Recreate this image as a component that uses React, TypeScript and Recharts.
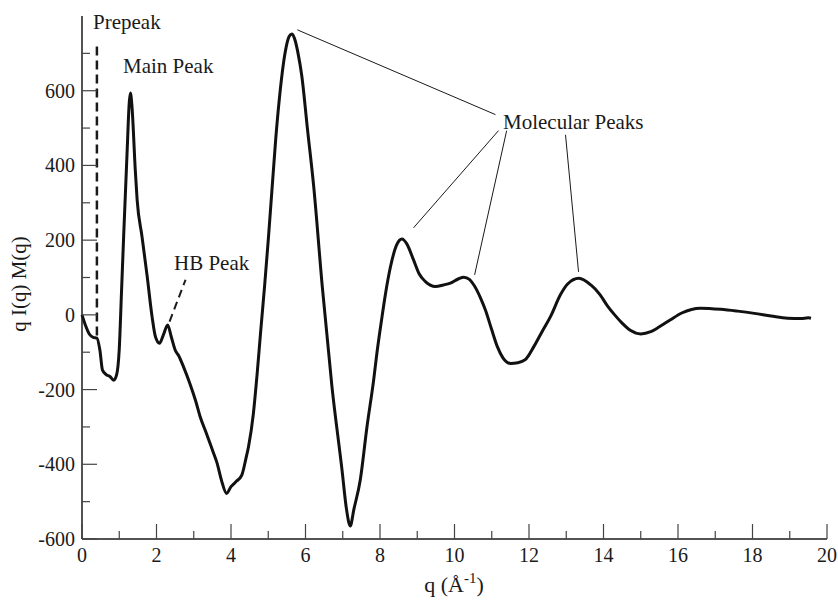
import React from 'react';
import { LineChart, Line, XAxis, YAxis, ReferenceLine } from 'recharts';

// q in 1/Å and q I(q) M(q)
const qValues = [
    0.0, 0.1, 0.2, 0.3, 0.4, 0.48, 0.55, 0.65, 0.75, 0.85, 0.93, 1.0, 1.06, 1.12, 1.21, 1.27, 1.3, 1.34,
    1.43, 1.48, 1.61, 1.75, 1.88, 1.97, 2.08, 2.18, 2.3, 2.4, 2.5, 2.6, 2.72, 2.9, 3.05, 3.17, 3.35, 3.53,
    3.62, 3.75, 3.88, 4.0, 4.15, 4.29, 4.4, 4.47, 4.6, 4.7, 4.8, 4.9, 5.0, 5.1, 5.2, 5.3, 5.45, 5.56, 5.64,
    5.72, 5.8, 5.9, 6.05, 6.22, 6.45, 6.71, 6.98, 7.1, 7.2, 7.3, 7.47, 7.65, 7.83, 7.92, 8.05, 8.15, 8.28,
    8.45, 8.59, 8.72, 8.9, 9.05, 9.22, 9.49, 9.7, 9.89, 10.1, 10.25, 10.4, 10.52, 10.7, 10.83, 11.0, 11.15,
    11.3, 11.5, 11.7, 11.9, 12.13, 12.35, 12.58, 12.85, 13.03, 13.34, 13.66, 13.9, 14.1, 14.3, 14.5, 14.73,
    15.0, 15.27, 15.5, 15.8, 16.1, 16.6, 17.15, 17.6, 18.05, 18.5, 18.94, 19.3, 19.5, 19.57,
];
const signal = [
    0, -30, -52, -60, -62, -94, -148, -160, -165, -175, -160, -92, 60, 215, 434, 570, 594, 560,
    388, 308, 210, 103, -4, -58, -76, -55, -27, -60, -94, -110, -138, -185, -230, -272, -320, -370,
    -395, -445, -478, -460, -445, -429, -385, -353, -265, -160, -40, 75, 200, 335, 470, 580, 700, 745, 752,
    735, 700, 640, 500, 344, 76, -192, -415, -520, -565, -520, -442, -300, -174, -100, -8, 58, 128,
    188, 203, 190, 147, 110, 89, 76, 80, 85, 96, 101, 95, 80, 45, 13, -40, -85,
    -115, -130, -128, -120, -85, -45, -4, 55, 82, 98, 80, 55, 25, 0, -22, -42,
    -51, -45, -32, -13, 5, 18, 15, 10, 4, -3, -9, -10, -8, -9,
];

const xTicks = [0, 1, 2, 3, 4, 5, 6, 7, 8, 9, 10, 11, 12, 13, 14, 15, 16, 17, 18, 19, 20];
const yTicks = [-600, -500, -400, -300, -200, -100, 0, 100, 200, 300, 400, 500, 600, 700];

// annotation guides, in data units
const prepeakGuide = [{ x: 0.4, y: -55 }, { x: 0.4, y: 732 }];
const hbGuide = [{ x: 2.35, y: -18 }, { x: 2.78, y: 94 }];
const molecularGuides = [
    [{ x: 5.78, y: 763 }, { x: 11.1, y: 536 }],
    [{ x: 11.18, y: 493 }, { x: 8.9, y: 233 }],
    [{ x: 11.4, y: 493 }, { x: 10.54, y: 107 }],
    [{ x: 12.98, y: 482 }, { x: 13.33, y: 115 }],
];

const data = qValues.map((q, i) => ({ q, v: signal[i] }));

const FONT = "'Liberation Serif', 'Times New Roman', Times, serif";
const INK = '#1a1a1a';

const YTick = (props: any) => {
    const { x, y, payload } = props;
    const major = payload.value % 200 === 0;
    return (
        <g>
            <line x1={x} x2={x + (major ? 15 : 8)} y1={y} y2={y} stroke="#444" strokeWidth={1.2} />
            {major && (
                <text x={x - 7} y={y} dy={7} textAnchor="end" fill={INK} style={{ fontFamily: FONT, fontSize: 20 }}>
                    {payload.value}
                </text>
            )}
        </g>
    );
};

const XTick = (props: any) => {
    const { x, y, payload } = props;
    const major = payload.value % 2 === 0;
    return (
        <g>
            <line x1={x} x2={x} y1={y} y2={y - (major ? 15 : 8)} stroke="#444" strokeWidth={1.2} />
            {major && (
                <text x={x} y={y + 23} textAnchor="middle" fill={INK} style={{ fontFamily: FONT, fontSize: 20 }}>
                    {payload.value}
                </text>
            )}
        </g>
    );
};

export default function App() {
    return (
        <div style={{ position: 'absolute', left: 0, top: 0, width: 838, height: 601, background: '#fff', fontFamily: FONT }}>
            <LineChart width={838} height={601} data={data} margin={{ top: 16, right: 11, bottom: 32, left: 22 }}>
                <XAxis
                    dataKey="q"
                    type="number"
                    domain={[0, 20]}
                    ticks={xTicks}
                    interval={0}
                    tickSize={0}
                    tickMargin={0}
                    tickLine={false}
                    tick={XTick}
                    height={30}
                    stroke={INK}
                    strokeWidth={1.5}
                />
                <YAxis
                    type="number"
                    domain={[-600, 800]}
                    ticks={yTicks}
                    interval={0}
                    tickSize={0}
                    tickMargin={0}
                    tickLine={false}
                    tick={YTick}
                    width={60}
                    stroke={INK}
                    strokeWidth={1.5}
                />
                <ReferenceLine segment={prepeakGuide} stroke={INK} strokeWidth={2.5} strokeDasharray="9 5" />
                <ReferenceLine segment={hbGuide} stroke={INK} strokeWidth={2} strokeDasharray="8 5" />
                {molecularGuides.map((seg, i) => (
                    <ReferenceLine key={i} segment={seg} stroke={INK} strokeWidth={1} />
                ))}
                <Line
                    dataKey="v"
                    type="monotone"
                    stroke="#111"
                    strokeWidth={3}
                    dot={false}
                    isAnimationActive={false}
                />
            </LineChart>
            <svg
                width={838}
                height={601}
                style={{ position: 'absolute', left: 0, top: 0, pointerEvents: 'none', fontFamily: FONT }}
                fill={INK}
            >
                <text x={93} y={29} fontSize={21}>Prepeak</text>
                <text x={123} y={73} fontSize={21}>Main Peak</text>
                <text x={174} y={270} fontSize={21}>HB Peak</text>
                <text x={503} y={129} fontSize={21}>Molecular Peaks</text>
                <text x={454} y={592} fontSize={22} textAnchor="middle">
                    q (Å<tspan fontSize={15} dy={-9}>-1</tspan>
                    <tspan dy={9}>)</tspan>
                </text>
                <text x={26} y={284} fontSize={21} textAnchor="middle" transform="rotate(-90 26 284)">
                    q I(q) M(q)
                </text>
            </svg>
        </div>
    );
}
